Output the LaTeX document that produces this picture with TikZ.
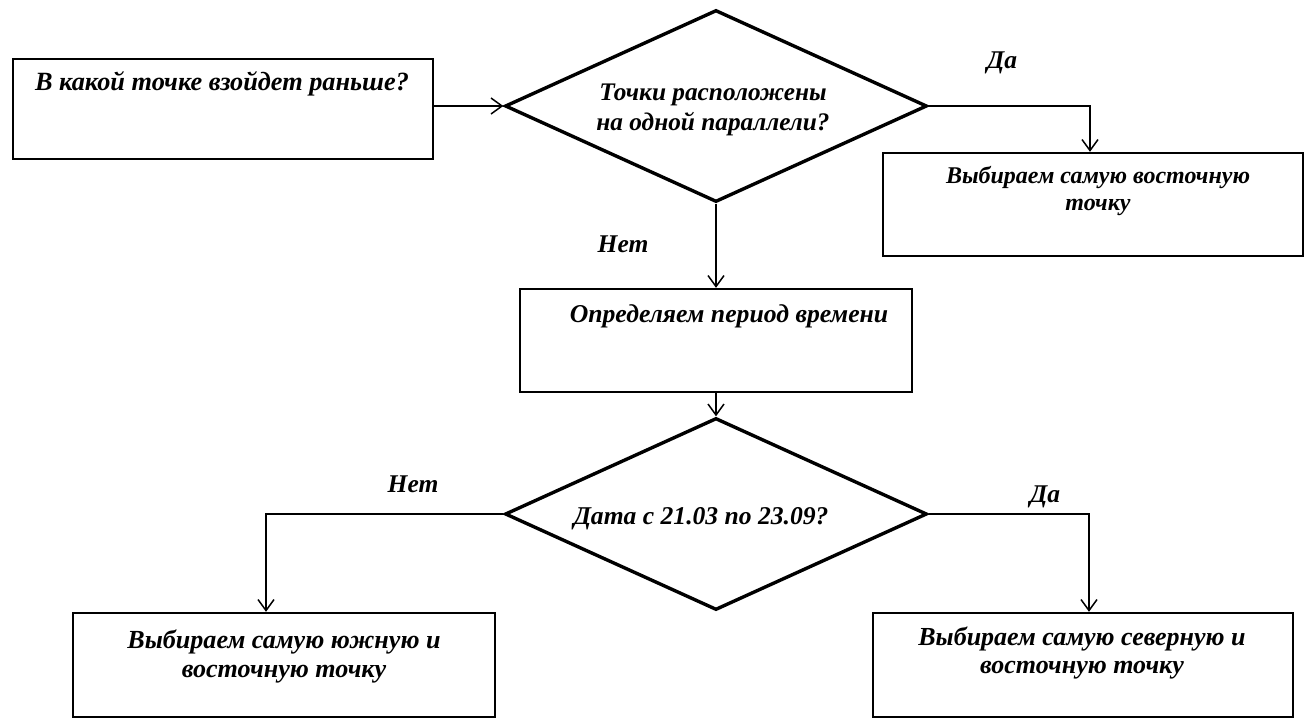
\documentclass[tikz,border=0pt]{standalone}
\usepackage{fontspec}
\setmainfont{Liberation Serif}
\usetikzlibrary{shapes.geometric,arrows.meta}
\begin{document}
\begin{tikzpicture}[x=1pt,y=-1pt,
  every node/.style={font=\fontsize{25.5}{28}\selectfont\bfseries\itshape},
  box/.style={draw,line width=2.4pt,rectangle,inner sep=0pt},
  dia/.style={draw,line width=3.4pt,diamond,aspect=2.2,inner sep=0pt,minimum width=422pt,minimum height=192pt},
  txt/.style={inner sep=0pt,align=center,anchor=base},
  lbl/.style={inner sep=0pt,anchor=base},
  arr/.style={line width=1.3pt,-{Straight Barb[length=11pt,width=16pt,line width=1.5pt]}}]
\useasboundingbox (0,0) rectangle (1307,721);
% shapes
\node[box,minimum width=420pt,minimum height=100pt] (b1) at (223,109) {};
\node[dia] (d1) at (716,106) {};
\node[box,minimum width=420pt,minimum height=103pt] (by) at (1093,204.5) {};
\node[box,minimum width=392pt,minimum height=103pt] (b2) at (716,340.5) {};
\node[dia] (d2) at (716,514) {};
\node[box,minimum width=422pt,minimum height=104pt] (b3) at (284,665) {};
\node[box,minimum width=420pt,minimum height=104pt] (b4) at (1083,665) {};
% texts
\node[txt,font=\fontsize{26.3}{28}\selectfont\bfseries\itshape] (t1) at (222,90) {В какой точке взойдет раньше?};
\node[txt,font=\fontsize{25.3}{30}\selectfont\bfseries\itshape] (td1) at (713,130) {Точки расположены\\на одной параллели?};
\node[txt,font=\fontsize{24}{27}\selectfont\bfseries\itshape] (ty) at (1098,210) {Выбираем самую восточную\\точку};
\node[txt,font=\fontsize{25.7}{28}\selectfont\bfseries\itshape] (t2) at (729,322) {Определяем период времени};
\node[txt,font=\fontsize{25.6}{28}\selectfont\bfseries\itshape] (td2) at (701,524) {Дата с 21.03 по 23.09?};
\node[txt,font=\fontsize{26.1}{29}\selectfont\bfseries\itshape] (t3) at (284,677) {Выбираем самую южную и\\восточную точку};
\node[txt,font=\fontsize{26}{28}\selectfont\bfseries\itshape] (t4) at (1082,673) {Выбираем самую северную и\\восточную точку};
% labels
\node[lbl] (l1) at (1002,68) {Да};
\node[lbl] (l2) at (623,252) {Нет};
\node[lbl] (l3) at (413,492) {Нет};
\node[lbl] (l4) at (1045,502) {Да};
% connectors
\coordinate (c3) at ([xshift=-18pt]b3.north);
\coordinate (c4) at ([xshift=6pt]b4.north);
\coordinate (cy) at ([xshift=-3pt]by.north);
\draw[arr] (d1.west -| b1.east) -- (d1.west);
\draw[arr] (d1.east) -| (cy);
\draw[arr] (d1.south) -- (b2.north);
\draw[arr] (b2.south) -- (d2.north);
\draw[arr] (d2.west) -| (c3);
\draw[arr] (d2.east) -| (c4);
\end{tikzpicture}
\end{document}
